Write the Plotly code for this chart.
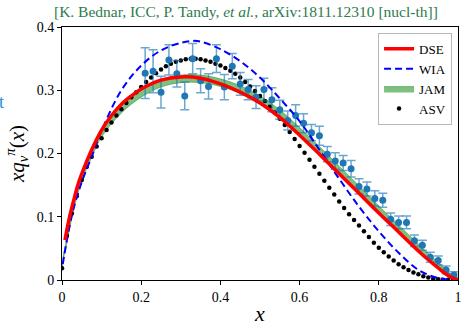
import plotly.graph_objects as go

# ---------------- data ----------------
data_x = [0.21, 0.23, 0.25, 0.27, 0.29, 0.31, 0.33, 0.35, 0.37, 0.39,
          0.41, 0.43, 0.45, 0.47, 0.49, 0.51, 0.53, 0.55, 0.57, 0.59,
          0.61, 0.63, 0.65, 0.67, 0.69, 0.71, 0.73, 0.75, 0.77, 0.79,
          0.81, 0.83, 0.85, 0.87, 0.89, 0.91, 0.93, 0.95, 0.97, 0.99]
data_y = [0.327, 0.330, 0.297, 0.348, 0.326, 0.291, 0.350, 0.315, 0.306, 0.350,
          0.305, 0.338, 0.310, 0.301, 0.289, 0.301, 0.285, 0.269, 0.252, 0.260,
          0.248, 0.233, 0.228, 0.199, 0.188, 0.185, 0.176, 0.148, 0.144, 0.129,
          0.126, 0.096, 0.091, 0.091, 0.062, 0.055, 0.036, 0.031, 0.016, 0.008]
data_err = [0.040, 0.034, 0.025, 0.024, 0.021, 0.022, 0.024, 0.019, 0.020, 0.022,
            0.020, 0.020, 0.018, 0.016, 0.018, 0.018, 0.019, 0.015, 0.015, 0.017,
            0.015, 0.013, 0.015, 0.012, 0.013, 0.012, 0.013, 0.012, 0.011, 0.012,
            0.011, 0.010, 0.010, 0.010, 0.009, 0.008, 0.008, 0.007, 0.006, 0.005]

dse_x = [0.0075, 0.01, 0.02, 0.03, 0.04, 0.05, 0.075, 0.1, 0.125, 0.15, 0.175,
         0.2, 0.25, 0.3, 0.35, 0.4, 0.45, 0.5, 0.55, 0.6, 0.65, 0.7, 0.75,
         0.8, 0.85, 0.9, 0.925, 0.95, 0.975, 1.0]
dse_y = [0.063, 0.072, 0.102, 0.127, 0.150, 0.168, 0.206, 0.237, 0.260, 0.278, 0.291,
         0.302, 0.316, 0.321, 0.319, 0.310, 0.297, 0.280, 0.257, 0.229, 0.199, 0.168, 0.137,
         0.106, 0.076, 0.046, 0.032, 0.019, 0.007, 0.0]

wia_x = [0.002, 0.01, 0.02, 0.03, 0.05, 0.075, 0.1, 0.15, 0.2, 0.25, 0.3, 0.33,
         0.35, 0.4, 0.45, 0.5, 0.55, 0.6, 0.65, 0.7, 0.75, 0.8, 0.85, 0.9, 0.95, 1.0]
wia_y = [0.025, 0.055, 0.088, 0.115, 0.155, 0.195, 0.236, 0.300, 0.339, 0.363, 0.375, 0.378,
         0.377, 0.365, 0.346, 0.320, 0.287, 0.251, 0.206, 0.160, 0.116, 0.077, 0.043, 0.016, 0.003, 0.0]

jam_x = [0.0, 0.003, 0.01, 0.02, 0.03, 0.05, 0.075, 0.1, 0.15, 0.2, 0.25, 0.3, 0.35,
         0.4, 0.45, 0.5, 0.55, 0.6, 0.65, 0.7, 0.75, 0.8, 0.85, 0.9, 0.925, 0.95, 0.975, 1.0]
jam_mid = [0.018, 0.035, 0.055, 0.088, 0.117, 0.162, 0.200, 0.232, 0.270, 0.295, 0.311, 0.318, 0.318,
           0.312, 0.301, 0.285, 0.263, 0.235, 0.205, 0.174, 0.143, 0.112, 0.082, 0.052, 0.038, 0.024, 0.010, 0.0]
jam_half = [0.002, 0.003, 0.004, 0.005, 0.005, 0.006, 0.006, 0.006, 0.006, 0.006, 0.006, 0.006, 0.006,
            0.006, 0.006, 0.006, 0.006, 0.006, 0.006, 0.006, 0.006, 0.005, 0.005, 0.005, 0.004, 0.004, 0.003, 0.001]

asv_x = [i / 80 for i in range(81)]
asv_y = [0.0185, 0.070, 0.105, 0.133, 0.158, 0.179, 0.195, 0.211, 0.224, 0.237,
         0.249, 0.260, 0.270, 0.280, 0.289, 0.297, 0.305, 0.313, 0.320, 0.327,
         0.333, 0.338, 0.342, 0.345, 0.347, 0.349, 0.350, 0.350, 0.349, 0.347,
         0.345, 0.342, 0.339, 0.335, 0.331, 0.326, 0.320, 0.313, 0.306, 0.299,
         0.291, 0.283, 0.274, 0.265, 0.255, 0.245, 0.234, 0.223, 0.212, 0.201,
         0.190, 0.179, 0.168, 0.157, 0.146, 0.135, 0.124, 0.114, 0.104, 0.095,
         0.086, 0.077, 0.068, 0.059, 0.051, 0.044, 0.037, 0.031, 0.025, 0.020,
         0.016, 0.012, 0.009, 0.006, 0.004, 0.002, 0.001, 0.0005, 0.0002, 0.0, 0.0]

x_ticks = [0, 0.2, 0.4, 0.6, 0.8, 1]
x_tick_text = ["0", "0.2", "0.4", "0.6", "0.8", "1"]
y_ticks = [0, 0.1, 0.2, 0.3, 0.4]
y_tick_text = ["0", "0.1", "0.2", "0.3", "0.4"]

SERIF = "Liberation Serif"

jam_lo = [m - h for m, h in zip(jam_mid, jam_half)]
jam_hi = [m + h for m, h in zip(jam_mid, jam_half)]

fig = go.Figure()

fig.add_trace(go.Scatter(x=jam_x, y=jam_lo, mode="lines", line=dict(color="rgba(0,128,0,0.5)", width=0.8, shape="spline"),
                         showlegend=False, hoverinfo="skip"))
fig.add_trace(go.Scatter(x=jam_x, y=jam_hi, mode="lines", fill="tonexty", fillcolor="rgba(0,128,0,0.5)",
                         line=dict(color="rgba(0,128,0,0.5)", width=0.8, shape="spline"), name="JAM", legendrank=3))

fig.add_trace(go.Scatter(x=asv_x, y=asv_y, mode="markers", marker=dict(color="black", size=4.5),
                         name="ASV", legendrank=4))

fig.add_trace(go.Scatter(x=data_x, y=data_y, mode="markers",
                         marker=dict(color="#1f77b4", size=7),
                         error_y=dict(type="data", array=data_err, visible=True,
                                      color="rgba(31,119,180,0.65)", thickness=1.5, width=4.5),
                         showlegend=False))

fig.add_trace(go.Scatter(x=wia_x, y=wia_y, mode="lines", name="WIA", legendrank=2,
                         line=dict(color="#0000ff", width=2, dash="7px,4px", shape="spline")))

fig.add_trace(go.Scatter(x=dse_x, y=dse_y, mode="lines", name="DSE", legendrank=1,
                         line=dict(color="#ff0000", width=3.5, shape="spline")))

fig.update_layout(
    width=464, height=326,
    margin=dict(l=62, r=2, t=27, b=40),
    paper_bgcolor="white", plot_bgcolor="white",
    font=dict(family=SERIF, size=14, color="black"),
    title=dict(text="[K. Bednar, ICC, P. Tandy, <i>et al.</i>, arXiv:1811.12310 [nucl-th]]",
               x=0.53, xanchor="center", y=0.963, yanchor="middle",
               font=dict(family=SERIF, size=15.5, color="#2b7d4b")),
    legend=dict(x=0.985, y=0.977, xanchor="right", yanchor="top", traceorder="normal",
                font=dict(family=SERIF, size=13), bgcolor="white",
                bordercolor="#b8b8b8", borderwidth=1, tracegroupgap=0),
    showlegend=True,
)

fig.update_xaxes(range=[0, 1], tickvals=x_ticks, ticktext=x_tick_text,
                 tickfont=dict(family=SERIF, size=14), ticklabeloverflow="allow",
                 showline=True, linecolor="black", linewidth=1, mirror=True,
                 ticks="outside", ticklen=4, tickcolor="black", showgrid=False, zeroline=False,
                 title=dict(text="<i>x</i>", font=dict(family=SERIF, size=22), standoff=4))
fig.update_yaxes(range=[0, 0.4], tickvals=y_ticks, ticktext=y_tick_text,
                 tickfont=dict(family=SERIF, size=14), ticklabeloverflow="allow",
                 showline=True, linecolor="black", linewidth=1, mirror=True,
                 ticks="outside", ticklen=4, tickcolor="black", showgrid=False, zeroline=False,
                 title=dict(text="<i>xq</i><sub><i>v</i></sub><sup><i>π</i></sup>(<i>x</i>)",
                            font=dict(family=SERIF, size=21), standoff=6))

fig.add_annotation(text="t", xref="paper", yref="paper", x=-0.141, y=0.703,
                   xanchor="right", yanchor="middle", showarrow=False,
                   font=dict(family=SERIF, size=18, color="#1f8fd6"))

fig.write_html("out.html")
